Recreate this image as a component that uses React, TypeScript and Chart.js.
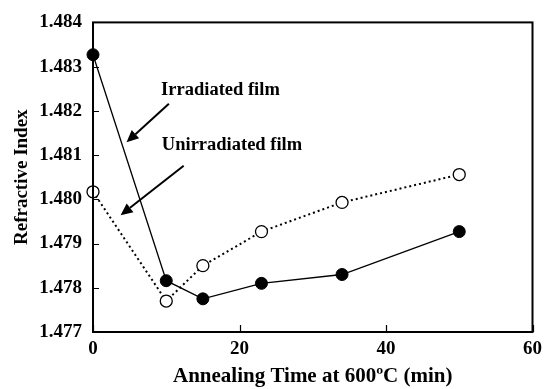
import React, { useEffect, useRef } from "react";
import { Chart, registerables } from "chart.js";

Chart.register(...registerables);

const times = [0, 10, 15, 23, 34, 50];
const irradiated = [1.48327, 1.47816, 1.47775, 1.4781, 1.4783, 1.47927];
const unirradiated = [1.48017, 1.4777, 1.4785, 1.47927, 1.47993, 1.48056];
const yTicks = [1.477, 1.478, 1.479, 1.48, 1.481, 1.482, 1.483, 1.484];
const xTicks = [0, 20, 40, 60];

const labelIrr = { text: "Irradiated film", x: 9.3, y: 1.48246 };
const labelUnirr = { text: "Unirradiated film", x: 9.4, y: 1.48122 };
const arrowIrr = { from: [10.36, 1.48216], to: [4.58, 1.48129] };
const arrowUnirr = { from: [12.38, 1.48076], to: [3.77, 1.47964] };

const FONT = "'Liberation Serif', 'Times New Roman', serif";

const framePlugin = {
  id: "frame",
  afterDraw(chart: any) {
    const { ctx, chartArea, scales } = chart;
    const xs = scales.x;
    const ys = scales.y;
    ctx.save();
    ctx.strokeStyle = "#000";
    ctx.lineWidth = 2;
    ctx.strokeRect(chartArea.left, chartArea.top, chartArea.right - chartArea.left, chartArea.bottom - chartArea.top);
    ctx.lineWidth = 1.2;
    ctx.beginPath();
    for (const v of yTicks) {
      const py = Math.round(ys.getPixelForValue(v)) + 0.5;
      ctx.moveTo(chartArea.left, py);
      ctx.lineTo(chartArea.left + 6, py);
    }
    for (const v of xTicks) {
      const px = Math.round(xs.getPixelForValue(v)) + 0.5;
      ctx.moveTo(px, chartArea.bottom);
      ctx.lineTo(px, chartArea.bottom - 7);
    }
    ctx.stroke();

    // annotations
    ctx.fillStyle = "#000";
    ctx.font = `bold 18.5px ${FONT}`;
    ctx.textBaseline = "middle";
    ctx.textAlign = "left";
    for (const l of [labelIrr, labelUnirr]) {
      ctx.fillText(l.text, xs.getPixelForValue(l.x), ys.getPixelForValue(l.y));
    }
    for (const a of [arrowIrr, arrowUnirr]) {
      const x1 = xs.getPixelForValue(a.from[0]);
      const y1 = ys.getPixelForValue(a.from[1]);
      const x2 = xs.getPixelForValue(a.to[0]);
      const y2 = ys.getPixelForValue(a.to[1]);
      const ang = Math.atan2(y2 - y1, x2 - x1);
      const hl = 12;
      const hw = 5.5;
      const bx = x2 - hl * Math.cos(ang);
      const by = y2 - hl * Math.sin(ang);
      ctx.lineWidth = 2;
      ctx.beginPath();
      ctx.moveTo(x1, y1);
      ctx.lineTo(bx, by);
      ctx.stroke();
      ctx.beginPath();
      ctx.moveTo(x2, y2);
      ctx.lineTo(bx + hw * Math.sin(ang), by - hw * Math.cos(ang));
      ctx.lineTo(bx - hw * Math.sin(ang), by + hw * Math.cos(ang));
      ctx.closePath();
      ctx.fill();
    }
    ctx.restore();
  },
};

export default function App() {
  const ref = useRef<HTMLCanvasElement>(null);
  useEffect(() => {
    if (!ref.current) return;
    const chart = new Chart(ref.current, {
      type: "line",
      data: {
        datasets: [
          {
            label: "Unirradiated film",
            data: times.map((t, i) => ({ x: t, y: unirradiated[i] })),
            borderColor: "#000",
            borderWidth: 2,
            borderDash: [2, 3],
            pointRadius: 6,
            pointBackgroundColor: "#fff",
            pointBorderColor: "#000",
            pointBorderWidth: 1.3,
            clip: false,
          } as any,
          {
            label: "Irradiated film",
            data: times.map((t, i) => ({ x: t, y: irradiated[i] })),
            borderColor: "#000",
            borderWidth: 1.3,
            pointRadius: 6,
            pointBackgroundColor: "#000",
            pointBorderColor: "#000",
            pointBorderWidth: 1,
            clip: false,
          } as any,
        ],
      },
      options: {
        animation: false,
        responsive: false,
        layout: { padding: { top: 17, right: 9, left: 0, bottom: 0 } },
        plugins: { legend: { display: false }, tooltip: { enabled: false } },
        scales: {
          x: {
            type: "linear",
            min: 0,
            max: 60,
            grid: { display: false, drawTicks: false },
            border: { display: false },
            ticks: {
              stepSize: 20,
              padding: 6,
              color: "#000",
              font: { family: FONT, size: 19, weight: "bold" },
            },
            title: {
              display: true,
              text: "Annealing Time at 600ºC (min)",
              color: "#000",
              font: { family: FONT, size: 21, weight: "bold" },
              padding: { top: 0, bottom: 0 },
            },
            afterFit: (s: any) => {
              s.height = 57;
            },
          },
          y: {
            type: "linear",
            min: 1.477,
            max: 1.484,
            grid: { display: false, drawTicks: false },
            border: { display: false },
            afterBuildTicks: (s: any) => {
              s.ticks = yTicks.map((v) => ({ value: v }));
            },
            ticks: {
              padding: 11,
              color: "#000",
              font: { family: FONT, size: 19, weight: "bold" },
              callback: (v: any) => Number(v).toFixed(3),
            },
            title: {
              display: true,
              text: "Refractive Index",
              color: "#000",
              font: { family: FONT, size: 19, weight: "bold" },
              padding: { top: 11, bottom: 0 },
            },
            afterFit: (s: any) => {
              s.width = 93;
            },
          },
        },
      },
      plugins: [framePlugin],
    });
    return () => chart.destroy();
  }, []);
  return (
    <div style={{ position: "fixed", left: 0, top: 0, width: 548, height: 389, background: "#fff" }}>
      <canvas ref={ref} width={548} height={389} />
    </div>
  );
}
